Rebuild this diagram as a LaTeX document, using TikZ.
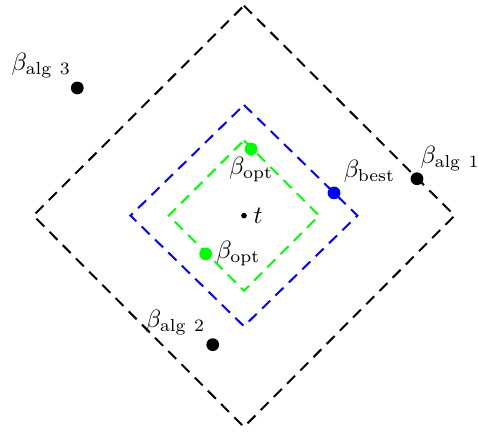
\documentclass[tikz,border=0pt]{standalone}
\usepackage{amsmath}
\usetikzlibrary{positioning}
\tikzset{
  dot/.style={circle,fill,inner sep=0pt,minimum size=0.18cm},
  level/.style={thick,dash pattern=on 4.5pt off 3pt}
}
\begin{document}
\begin{tikzpicture}
  \useasboundingbox (-3.44,-3.04) rectangle (3.30,3.04);
  \draw[level,black] (0,2.96) -- (2.97,0) -- (0,-2.98) -- (-2.97,0) -- cycle;
  \draw[level,blue] (0,1.56) -- (1.6,0) -- (0,-1.56) -- (-1.6,0) -- cycle;
  \draw[level,green] (0,1.06) -- (1.06,0) -- (0,-1.06) -- (-1.06,0) -- cycle;
  \node[circle,fill,inner sep=0pt,minimum size=0.08cm,label={[label distance=-1pt]right:$t$}] (t) at (0,0) {};
  \node[dot,label={[label distance=-2pt,xshift=1.5pt]130:$\beta_{\mathrm{alg\ 3}}$}] (a3) at (-2.35,1.80) {};
  \node[dot,label={[label distance=-2pt,xshift=-2.5pt,yshift=-1pt]60:$\beta_{\mathrm{alg\ 1}}$}] (a1) at (2.44,0.52) {};
  \node[dot,label={[label distance=-2pt,xshift=1pt]130:$\beta_{\mathrm{alg\ 2}}$}] (a2) at (-0.44,-1.82) {};
  \node[dot,blue,label={[label distance=-2pt]60:$\beta_{\mathrm{best}}$}] (best) at (1.27,0.32) {};
  \node[dot,green,label={[label distance=-3pt]below:$\beta_{\mathrm{opt}}$}] (o1) at (0.10,0.94) {};
  \node[dot,green,label={[label distance=-2pt]right:$\beta_{\mathrm{opt}}$}] (o2) at (-0.54,-0.54) {};
\end{tikzpicture}
\end{document}
